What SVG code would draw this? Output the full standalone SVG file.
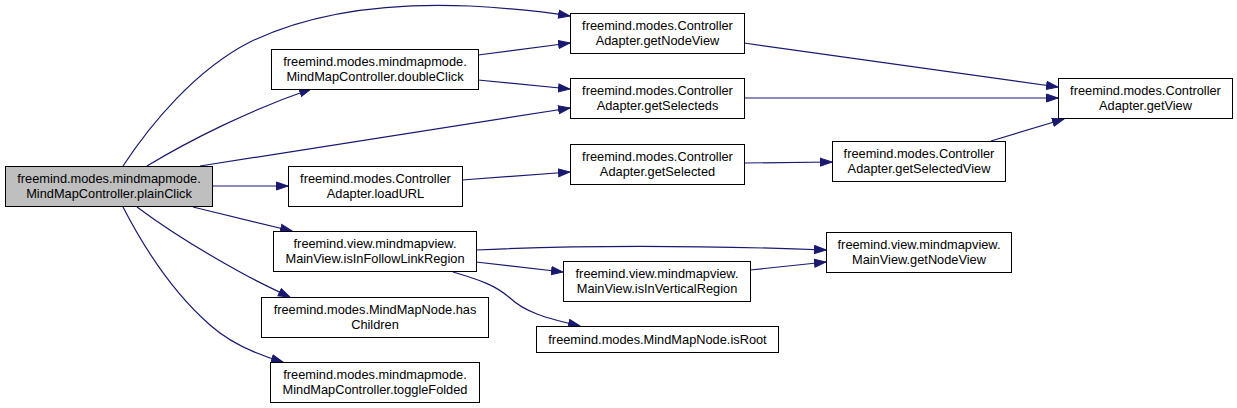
<svg xmlns="http://www.w3.org/2000/svg" width="1237" height="408" viewBox="0 0 1237 408">
<style>
.n rect{fill:#ffffff;stroke:#000000;stroke-width:1}
.n.cur rect{fill:#bfbfbf}
.n text{font-family:"Liberation Sans",Arial,sans-serif;font-size:12.8px;fill:#000000;text-anchor:middle}
.e path{fill:none;stroke:#191970;stroke-width:1.2;marker-end:url(#a)}
</style>
<defs>
<marker id="a" markerUnits="userSpaceOnUse" markerWidth="13" markerHeight="10" refX="12" refY="5" orient="auto">
<path d="M0.5,1 L12,5 L0.5,9 z" fill="#191970" stroke="#191970" stroke-width="1"/>
</marker>
</defs>
<rect width="1237" height="408" fill="#ffffff"/>
<g id="edges" class="e">
<path d="M123,166 C150,125 195,70 250,42 C320,8 400,3 470,6 C505,8 540,11 570,16"/>
<path d="M147,166 C190,140 250,110 311,89"/>
<path d="M200,166 L570,108"/>
<path d="M212,186 L288,186"/>
<path d="M193,207 L292,231"/>
<path d="M137,207 C165,228 200,250 240,272 C258,282 275,290 290,297"/>
<path d="M123,207 C140,240 170,290 210,325 C230,343 255,354 283,362"/>
<path d="M478,55 L570,43"/>
<path d="M478,80 L570,89"/>
<path d="M744,43 L1058,87"/>
<path d="M744,98 L1058,98"/>
<path d="M462,180 L570,172"/>
<path d="M744,163 L832,162"/>
<path d="M991,141 L1064,119"/>
<path d="M476,250 C600,244 720,246 826,250"/>
<path d="M476,262 L563,272"/>
<path d="M453,272 C480,280 495,285 510,298 C525,312 545,318 580,326"/>
<path d="M750,270 L826,262"/>
</g>
<g id="plainClick" class="n cur"><rect x="5.5" y="166.5" width="207" height="40"/><text x="109" y="183">freemind.modes.mindmapmode.</text><text x="109" y="197.5">MindMapController.plainClick</text></g>
<g id="doubleClick" class="n"><rect x="271.5" y="49.5" width="207" height="40"/><text x="375" y="66">freemind.modes.mindmapmode.</text><text x="375" y="80.5">MindMapController.doubleClick</text></g>
<g id="loadURL" class="n"><rect x="288.5" y="166.5" width="174" height="40"/><text x="375.5" y="183">freemind.modes.Controller</text><text x="375.5" y="197.5">Adapter.loadURL</text></g>
<g id="isInFollowLinkRegion" class="n"><rect x="273.5" y="231.5" width="203" height="40"/><text x="375" y="248">freemind.view.mindmapview.</text><text x="375" y="262.5">MainView.isInFollowLinkRegion</text></g>
<g id="hasChildren" class="n"><rect x="261.5" y="297.5" width="227" height="40"/><text x="375" y="314">freemind.modes.MindMapNode.has</text><text x="375" y="328.5">Children</text></g>
<g id="toggleFolded" class="n"><rect x="270.5" y="362.5" width="209" height="40"/><text x="375" y="379">freemind.modes.mindmapmode.</text><text x="375" y="393.5">MindMapController.toggleFolded</text></g>
<g id="getNodeView" class="n"><rect x="570.5" y="13.5" width="174" height="40"/><text x="657.5" y="30">freemind.modes.Controller</text><text x="657.5" y="44.5">Adapter.getNodeView</text></g>
<g id="getSelecteds" class="n"><rect x="570.5" y="78.5" width="174" height="40"/><text x="657.5" y="95">freemind.modes.Controller</text><text x="657.5" y="109.5">Adapter.getSelecteds</text></g>
<g id="getSelected" class="n"><rect x="570.5" y="144.5" width="174" height="40"/><text x="657.5" y="161">freemind.modes.Controller</text><text x="657.5" y="175.5">Adapter.getSelected</text></g>
<g id="getView" class="n"><rect x="1058.5" y="78.5" width="174" height="40"/><text x="1145.5" y="95">freemind.modes.Controller</text><text x="1145.5" y="109.5">Adapter.getView</text></g>
<g id="getSelectedView" class="n"><rect x="832.5" y="141.5" width="173" height="40"/><text x="919" y="158">freemind.modes.Controller</text><text x="919" y="172.5">Adapter.getSelectedView</text></g>
<g id="mvGetNodeView" class="n"><rect x="826.5" y="232.5" width="185" height="40"/><text x="919" y="249">freemind.view.mindmapview.</text><text x="919" y="263.5">MainView.getNodeView</text></g>
<g id="isInVerticalRegion" class="n"><rect x="563.5" y="261.5" width="187" height="40"/><text x="657" y="278">freemind.view.mindmapview.</text><text x="657" y="292.5">MainView.isInVerticalRegion</text></g>
<g id="isRoot" class="n"><rect x="536.5" y="326.5" width="242" height="26"/><text x="657.5" y="343.5">freemind.modes.MindMapNode.isRoot</text></g>
</svg>
